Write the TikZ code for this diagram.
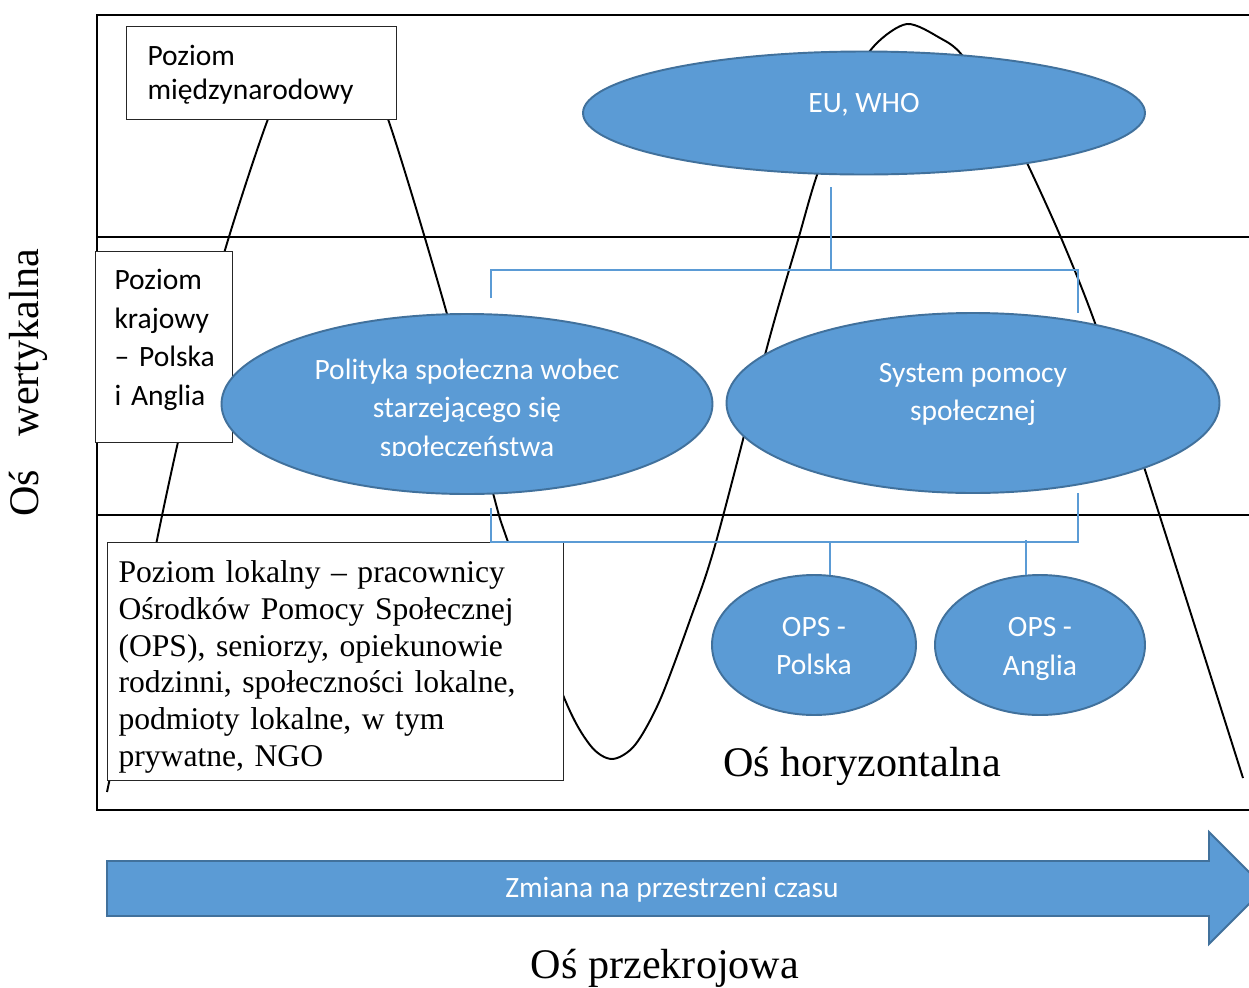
\documentclass[tikz,border=0pt]{standalone}
\usepackage{fontspec}
\setmainfont{Liberation Serif}
\newfontfamily\calfont{Carlito}
\usetikzlibrary{shapes.geometric}
\definecolor{ofblue}{HTML}{5B9BD5}
\definecolor{ofborder}{HTML}{41719C}
\begin{document}
\begin{tikzpicture}[x=0.02cm,y=-0.02cm,
  blob/.style={ellipse, fill=ofblue, draw=ofborder, line width=1.1pt, inner sep=0pt},
  blobtext/.style={text=white, font=\calfont\fontsize{16.8}{22}\selectfont, align=center, inner sep=0pt},
  lvlbox/.style={draw=black!85, fill=white, line width=0.6pt, align=left, inner ysep=0pt, anchor=north west},
  conn/.style={draw=ofblue, line width=0.7pt},
  frameline/.style={line width=1.2pt},
  wave/.style={line width=1.1pt},
  axis/.style={font=\fontsize{24}{28}\selectfont, inner sep=0pt}
  ]
\clip (0,0) rectangle (1249,988);
\fill[white] (0,0) rectangle (1249,988);

% frame
\draw[frameline] (1260,15) -- (97,15) -- (97,810) -- (1260,810);
\draw[frameline] (97,237) -- (1260,237);
\draw[frameline] (97,515) -- (1260,515);

% wave
\draw[wave] plot[smooth, tension=0.5] coordinates {
 (107,792) (130,680) (157,540) (178,442) (200,350) (225,250) (268,119)
 (300,52) (328,40) (356,52) (388,119) (447,314) (493,493) (508,542)
 (563,695) (590,745) (612,759) (635,745) (660,700) (690,620) (716,542)
 (769,340) (798,240) (817,175) (850,85) (875,45) (907,24) (940,38) (962,55)
 (1000,110) (1028,165) (1062,240) (1095,323) (1145,470) (1243,778)};

% level boxes
\node[lvlbox, inner xsep=21*0.02cm, text width=228*0.02cm, minimum height=93*0.02cm,
      font=\calfont\fontsize{16.8}{19.8}\selectfont] (intl) at (126,26)
      {\rule{0pt}{13.5pt}Poziom\\międzynarodowy};
\node[lvlbox, inner xsep=19*0.02cm, text width=99*0.02cm, minimum height=191*0.02cm,
      font=\calfont\fontsize{16.8}{22}\selectfont] (natl) at (95,251)
      {\mbox{Poziom}\\\mbox{krajowy}\\\mbox{– Polska}\\\mbox{i Anglia}\rule[-11pt]{0pt}{0pt}};
\node[lvlbox, inner xsep=11*0.02cm, text width=434*0.02cm, minimum height=238*0.02cm,
      font=\fontsize{18}{20.9}\selectfont] (local) at (107,542)
      {\rule{0pt}{18.5pt}Poziom lokalny – pracownicy\\Ośrodków Pomocy Społecznej\\(OPS), seniorzy, opiekunowie\\rodzinni, społeczności lokalne,\\podmioty lokalne, w tym\\prywatne, NGO};

% ellipses
\node[blob, minimum width=562*0.02cm, minimum height=123*0.02cm] (eu) at (864,113) {};
\node[blobtext] (eut) at (864,105) {EU, WHO};

\node[blob, minimum width=491*0.02cm, minimum height=180*0.02cm] (pol) at (467,404) {};
\begin{scope}
  \clip (222,300) rectangle (713,455);
  \node[blobtext, font=\calfont\fontsize{16.8}{21.8}\selectfont] (polt) at (467,410)
    {Polityka społeczna wobec\\starzejącego się\\społeczeństwa};
\end{scope}

\node[blob, minimum width=493*0.02cm, minimum height=180*0.02cm] (sys) at (973,403) {};
\node[blobtext] (syst) at (973,394.5) {System pomocy\\społecznej};

\node[blob, minimum width=204*0.02cm, minimum height=140*0.02cm] (opsp) at (814,645) {};
\node[blobtext] (opspt) at (814,646) {OPS -\\Polska};
\node[blob, minimum width=210*0.02cm, minimum height=140*0.02cm] (opsa) at (1040,645) {};
\node[blobtext] (opsat) at (1040,649) {OPS -\\Anglia};

% connectors
\coordinate (u0) at (831,187);
\coordinate (ubar) at (831,270);
\coordinate (uL) at (491,298);
\coordinate (uR) at (1078,313);
\draw[conn] (u0) -- (ubar);
\draw[conn] (uL) -- (uL |- ubar) -- (uR |- ubar) -- (uR);

\coordinate (lL) at (491,508);
\coordinate (lR) at (1078,493);
\coordinate (lbar) at (830,542);
\coordinate (lP) at (830,575);
\coordinate (lA0) at (1026,540);
\coordinate (lA) at (1026,575);
\draw[conn] (lL) -- (lL |- lbar) -- (lR |- lbar) -- (lR);
\draw[conn] (lbar) -- (lP);
\draw[conn] (lA0) -- (lA);

% time arrow
\draw[fill=ofblue, draw=ofborder, line width=1.1pt]
  (107,861) -- (1209,861) -- (1209,832) -- (1265,888) -- (1209,944) -- (1209,916) -- (107,916) -- cycle;
\node[blobtext] (time) at (672,890) {Zmiana na przestrzeni czasu};

% axis labels
\node[axis] (hor) at (862,766) {Oś horyzontalna};
\node[axis] (prz) at (665,968) {Oś przekrojowa};
\node[axis, rotate=90] (wer) at (28,383) {Oś\hspace{0.55em} wertykalna};
\end{tikzpicture}
\end{document}
